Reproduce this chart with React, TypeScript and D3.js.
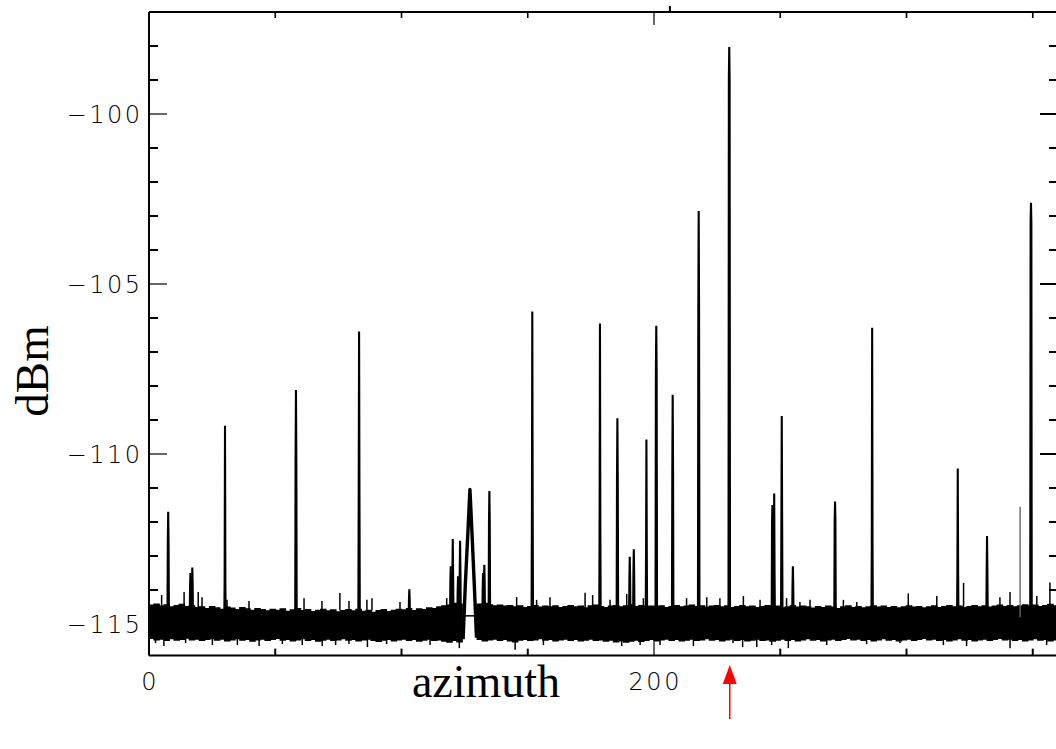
import React from "react";
import * as d3 from "d3";

// ---------- data ----------
// noise band envelope sampled every 2° of azimuth (0..360); null = gap under the hump
const bandStep = 2;
const bandHi: (number | null)[] = [
  -114.45, -114.42, -114.48, -114.44, -114.5, -114.46, -114.43, -114.49, -114.47, -114.52,
  -114.5, -114.55, -114.49, -114.53, -114.57, -114.51, -114.54, -114.58, -114.52, -114.56,
  -114.6, -114.55, -114.58, -114.62, -114.57, -114.6, -114.56, -114.63, -114.59, -114.55,
  -114.61, -114.58, -114.64, -114.6, -114.57, -114.62, -114.59, -114.65, -114.61, -114.58,
  -114.62, -114.57, -114.63, -114.6, -114.66, -114.61, -114.58, -114.64, -114.6, -114.57,
  -114.59, -114.55, -114.61, -114.56, -114.58, -114.53, -114.55, -114.5, -114.47, -114.45,
  -114.4, -114.42, -114.45, null, null, -114.42, -114.4, -114.44, -114.47, -114.45,
  -114.48, -114.46, -114.5, -114.47, -114.52, -114.49, -114.46, -114.51, -114.48, -114.5,
  -114.47, -114.52, -114.49, -114.46, -114.5, -114.48, -114.53, -114.47, -114.45, -114.49,
  -114.52, -114.48, -114.46, -114.5, -114.47, -114.44, -114.49, -114.46, -114.51, -114.48,
  -114.5, -114.47, -114.52, -114.49, -114.46, -114.5, -114.48, -114.45, -114.49, -114.47,
  -114.51, -114.48, -114.46, -114.5, -114.47, -114.52, -114.49, -114.46, -114.5, -114.48,
  -114.52, -114.49, -114.46, -114.5, -114.48, -114.53, -114.5, -114.47, -114.51, -114.48,
  -114.5, -114.54, -114.49, -114.52, -114.48, -114.51, -114.55, -114.5, -114.47, -114.52,
  -114.49, -114.53, -114.5, -114.47, -114.51, -114.48, -114.52, -114.49, -114.53, -114.5,
  -114.47, -114.51, -114.49, -114.53, -114.5, -114.47, -114.52, -114.49, -114.46, -114.5,
  -114.48, -114.52, -114.49, -114.46, -114.5, -114.47, -114.51, -114.48, -114.45, -114.49,
  -114.46, -114.5, -114.47, -114.44, -114.48, -114.45, -114.49, -114.46, -114.43, -114.47,
  -114.45,
];
const bandLo: (number | null)[] = [
  -115.42, -115.46, -115.44, -115.48, -115.43, -115.47, -115.45, -115.41, -115.46, -115.44,
  -115.48, -115.45, -115.43, -115.47, -115.44, -115.49, -115.46, -115.43, -115.47, -115.45,
  -115.5, -115.46, -115.44, -115.48, -115.45, -115.42, -115.47, -115.45, -115.49, -115.46,
  -115.43, -115.48, -115.45, -115.5, -115.47, -115.44, -115.48, -115.46, -115.43, -115.47,
  -115.45, -115.49, -115.46, -115.44, -115.48, -115.51, -115.47, -115.45, -115.49, -115.46,
  -115.44, -115.48, -115.45, -115.5, -115.47, -115.44, -115.48, -115.46, -115.5, -115.53,
  -115.48, -115.52, -115.5, null, null, -115.45, -115.49, -115.46, -115.44, -115.48,
  -115.45, -115.49, -115.52, -115.47, -115.45, -115.48, -115.46, -115.43, -115.47, -115.45,
  -115.49, -115.46, -115.44, -115.48, -115.45, -115.49, -115.47, -115.44, -115.48, -115.46,
  -115.5, -115.47, -115.52, -115.49, -115.53, -115.5, -115.47, -115.51, -115.48, -115.45,
  -115.49, -115.46, -115.44, -115.48, -115.45, -115.49, -115.47, -115.44, -115.48, -115.46,
  -115.43, -115.47, -115.45, -115.49, -115.46, -115.44, -115.48, -115.45, -115.49, -115.47,
  -115.44, -115.48, -115.46, -115.5, -115.47, -115.44, -115.48, -115.45, -115.49, -115.46,
  -115.43, -115.47, -115.45, -115.49, -115.46, -115.44, -115.48, -115.45, -115.42, -115.46,
  -115.44, -115.48, -115.45, -115.49, -115.46, -115.43, -115.47, -115.45, -115.49, -115.46,
  -115.44, -115.48, -115.45, -115.42, -115.46, -115.44, -115.48, -115.45, -115.49, -115.46,
  -115.43, -115.47, -115.45, -115.49, -115.46, -115.44, -115.48, -115.45, -115.42, -115.46,
  -115.44, -115.48, -115.45, -115.49, -115.46, -115.43, -115.47, -115.45, -115.49, -115.46,
  -115.44,
];

// small protrusions from the noise band: [azimuth, dBm]
const noiseUp: [number, number][] = [
  [5.0, -114.15], [13.9, -114.06], [19.5, -114.06], [21.0, -114.21], [30.9, -114.29],
  [39.6, -114.32], [61.4, -114.24], [68.5, -114.32], [75.6, -114.09], [79.2, -114.32],
  [86.3, -114.29], [88.3, -114.24], [99.4, -114.35], [117.9, -114.24], [145.6, -114.21],
  [153.5, -114.29], [158.8, -114.21], [172.7, -114.08], [175.7, -114.15], [182.6, -114.29],
  [189.2, -114.12], [195.8, -114.24], [212.9, -114.24], [220.9, -114.21], [226.1, -114.24],
  [235.4, -114.18], [242.0, -114.29], [252.5, -114.24], [257.8, -114.35], [261.8, -114.29],
  [275.0, -114.29], [280.3, -114.35], [300.7, -114.1], [312.0, -114.18], [322.6, -113.79],
  [337.0, -114.21], [341.0, -114.06], [351.6, -114.18], [356.8, -113.78],
];
const noiseDown: [number, number][] = [
  [2.6, -115.56], [5.9, -115.65], [14.5, -115.56], [25.1, -115.62], [35.0, -115.62],
  [43.6, -115.65], [52.8, -115.59], [60.7, -115.62], [68.6, -115.65], [73.9, -115.62],
  [79.2, -115.59], [86.5, -115.68], [94.1, -115.59], [111.3, -115.62], [122.9, -115.71],
  [145.0, -115.76], [156.2, -115.62], [187.2, -115.65], [194.5, -115.62], [202.4, -115.62],
  [215.6, -115.65], [231.3, -115.56], [235.1, -115.68], [240.7, -115.68], [246.6, -115.62],
  [253.2, -115.71], [268.4, -115.62], [284.2, -115.59], [297.4, -115.56], [314.6, -115.62],
  [323.8, -115.65], [341.0, -115.71], [355.5, -115.62],
];

// spikes: [azimuth, peak dBm, shoulder dBm]
const peaks: [number, number, number][] = [
  [7.6, -111.7, -112.6], [16.4, -113.5, -114.0], [17.15, -113.34, -113.9], [30.1, -109.17, -113.8],
  [58.2, -108.12, -110.2], [83.2, -106.4, -111.35], [103.1, -113.98, -114.3],
  [119.5, -113.3, -113.8], [120.3, -112.5, -113.6], [122.4, -113.6, -114.0], [123.2, -112.55, -113.5],
  [132.3, -113.5, -114.0], [132.8, -113.26, -113.8], [134.8, -111.09, -112.0],
  [151.8, -105.81, -111.7], [178.6, -106.16, -112.2], [185.5, -108.95, -110.7],
  [190.4, -113.02, -113.7], [192.0, -112.8, -113.5], [197.0, -109.57, -113.0],
  [200.9, -106.23, -107.6], [207.4, -108.26, -110.5], [217.7, -102.85, -105.76],
  [229.8, -98.03, -99.0], [246.9, -111.5, -112.0], [247.6, -111.16, -113.5],
  [250.6, -108.88, -112.0], [255.0, -113.3, -113.9], [271.7, -111.4, -112.0],
  [286.4, -106.29, -112.75], [320.3, -110.43, -113.5], [331.9, -112.41, -113.5],
  [349.3, -102.61, -103.2],
];
const grayPeaks: [number, number][] = [[345.0, -111.55]];

// broad hump near 127° (trace drawn over a gap in the noise)
const humpAz = [124.4, 125.3, 126.3, 127.1, 127.9, 128.8, 129.7];
const humpDb = [-115.45, -113.8, -112.3, -111.04, -112.3, -113.8, -115.4];
const humpFloor: [number, number, number] = [125.2, 129.0, -114.76];

const xTicksMajor = [0, 200];
const xTicksMinor = [50, 100, 150, 250, 300, 350];
const xTickLabels = ["0", "200"];
const yTicksMajor = [-100, -105, -110, -115];
const yTicksMinor = [-98, -99, -101, -102, -103, -104, -106, -107, -108, -109, -111, -112, -113, -114];
const yTickLabels = ["\u2212100", "\u2212105", "\u2212110", "\u2212115"];
const topMarks = [206.3];
const arrowAz = 230;
const xTitle = "azimuth";
const yTitle = "dBm";

// ---------- chart ----------
const W = 1056;
const H = 749;
const x = d3.scaleLinear().domain([0, 360]).range([149, 1058]);
const y = d3.scaleLinear().domain([-100, -115]).range([114, 624]);
const top = y(-97);
const bottom = y(-115.93);
const left = x(0);
const right = x(360);

export default function App() {
  const idx = d3.range(bandHi.length);
  const area = d3
    .area<number>()
    .defined((i) => bandHi[i] !== null && bandLo[i] !== null)
    .curve(d3.curveStepAfter)
    .x((i) => x(i * bandStep))
    .y0((i) => y(bandLo[i] as number))
    .y1((i) => y(bandHi[i] as number));
  const bandPath = area(idx) || "";

  const line = d3.line<[number, number]>().x((d) => x(d[0])).y((d) => y(d[1]));
  const humpPath = line(humpAz.map((a, i) => [a, humpDb[i]] as [number, number])) || "";

  const peakPath = (p: [number, number, number]) =>
    line([
      [p[0] - 0.3, -115.0],
      [p[0] - 0.15, p[2]],
      [p[0], p[1]],
      [p[0] + 0.15, p[2]],
      [p[0] + 0.3, -115.0],
    ]) || "";

  const labelFont = "'DejaVu Sans', 'Liberation Sans', sans-serif";
  const titleFont = "'Liberation Serif', 'Times New Roman', serif";
  const ls = 2.5;

  return (
    <svg width={W} height={H} style={{ position: "absolute", left: 0, top: 0, background: "#fff" }}>
      <rect x={0} y={0} width={W} height={H} fill="#fff" />
      {/* noise band */}
      <path d={bandPath} fill="#000" stroke="#000" strokeWidth={1.5} />
      {noiseUp.map((d, i) => (
        <line key={"u" + i} x1={x(d[0])} x2={x(d[0])} y1={y(-114.6)} y2={y(d[1])} stroke="#000" strokeWidth={1.5} />
      ))}
      {noiseDown.map((d, i) => (
        <line key={"d" + i} x1={x(d[0])} x2={x(d[0])} y1={y(-115.35)} y2={y(d[1])} stroke="#000" strokeWidth={1.5} />
      ))}
      {/* hump */}
      <path d={humpPath} fill="none" stroke="#000" strokeWidth={3.4} strokeLinejoin="round" />
      <line x1={x(humpFloor[0])} x2={x(humpFloor[1])} y1={y(humpFloor[2])} y2={y(humpFloor[2])} stroke="#000" strokeWidth={1.5} />
      {/* spikes */}
      {peaks.map((p, i) => (
        <path key={"p" + i} d={peakPath(p)} fill="#000" stroke="#000" strokeWidth={2.1} strokeLinejoin="miter" />
      ))}
      {grayPeaks.map((p, i) => (
        <line key={"g" + i} x1={x(p[0])} x2={x(p[0])} y1={y(-114.8)} y2={y(p[1])} stroke="#666" strokeWidth={1.4} />
      ))}

      {/* frame */}
      <line x1={left} x2={left} y1={top} y2={bottom} stroke="#000" strokeWidth={2} />
      <line x1={right} x2={right} y1={top} y2={bottom} stroke="#000" strokeWidth={2} />
      <line x1={left} x2={right} y1={top} y2={top} stroke="#000" strokeWidth={2} />
      <line x1={left} x2={right} y1={bottom} y2={bottom} stroke="#000" strokeWidth={2} />

      {/* y ticks */}
      {yTicksMajor.map((v) => (
        <g key={"ym" + v}>
          <line x1={left} x2={left + 18} y1={y(v)} y2={y(v)} stroke="#000" strokeWidth={1.2} />
          <line x1={right} x2={right - 18} y1={y(v)} y2={y(v)} stroke="#000" strokeWidth={2} />
        </g>
      ))}
      {yTicksMinor.map((v) => (
        <g key={"yn" + v}>
          <line x1={left} x2={left + 9} y1={y(v)} y2={y(v)} stroke="#000" strokeWidth={2} />
          <line x1={right} x2={right - 9} y1={y(v)} y2={y(v)} stroke="#000" strokeWidth={2} />
        </g>
      ))}
      {yTicksMajor.map((v, i) => (
        <text key={"yl" + v} x={140 + ls} y={y(v)} dy="0.36em" textAnchor="end" fontFamily={labelFont} fontWeight={200} fontSize={24} letterSpacing={ls} fill="#000">
          {yTickLabels[i]}
        </text>
      ))}

      {/* x ticks */}
      {xTicksMajor.map((v) => (
        <g key={"xm" + v}>
          <line x1={x(v)} x2={x(v)} y1={bottom} y2={bottom - 14} stroke="#000" strokeWidth={1.2} />
          <line x1={x(v)} x2={x(v)} y1={top} y2={top + 13} stroke="#000" strokeWidth={1.2} />
        </g>
      ))}
      {xTicksMinor.map((v) => (
        <g key={"xn" + v}>
          <line x1={x(v)} x2={x(v)} y1={bottom} y2={bottom - 7} stroke="#000" strokeWidth={2} />
          <line x1={x(v)} x2={x(v)} y1={top} y2={top + 6} stroke="#000" strokeWidth={1.6} />
        </g>
      ))}
      {topMarks.map((v) => (
        <line key={"tm" + v} x1={x(v)} x2={x(v)} y1={top} y2={top - 6} stroke="#000" strokeWidth={2} />
      ))}
      {xTicksMajor.map((v, i) => (
        <text key={"xl" + v} x={x(v) + ls / 2} y={690} textAnchor="middle" fontFamily={labelFont} fontWeight={200} fontSize={24} letterSpacing={ls} fill="#000">
          {xTickLabels[i]}
        </text>
      ))}

      {/* titles */}
      <text x={486} y={697} textAnchor="middle" fontFamily={titleFont} fontSize={46} fill="#000">
        {xTitle}
      </text>
      <text transform={`translate(48, 371) rotate(-90)`} textAnchor="middle" fontFamily={titleFont} fontSize={47} fill="#000">
        {yTitle}
      </text>

      {/* red arrow */}
      <line x1={x(arrowAz)} x2={x(arrowAz)} y1={680} y2={719} stroke="#ff0000" strokeWidth={1.5} />
      <path
        d={`M${x(arrowAz)},${665} L${x(arrowAz) - 7},${684} L${x(arrowAz) + 7},${684} Z`}
        fill="#ff0000"
      />
    </svg>
  );
}
